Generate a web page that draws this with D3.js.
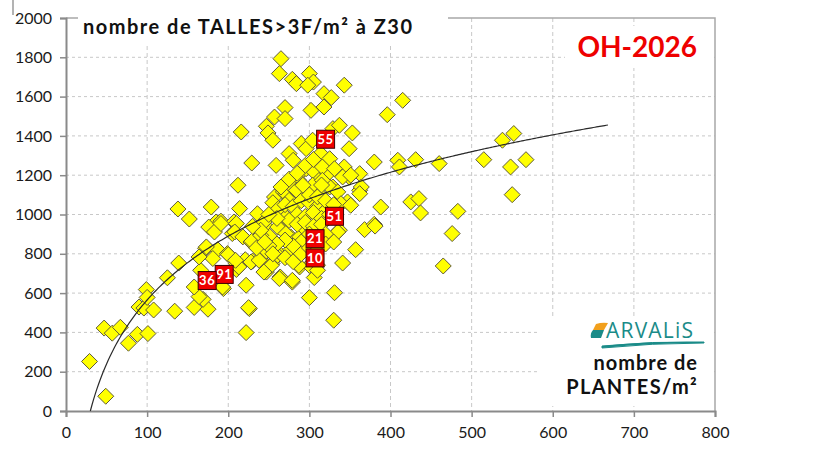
<!DOCTYPE html>
<html>
<head>
<meta charset="utf-8">
<script src="https://cdnjs.cloudflare.com/ajax/libs/d3/7.8.5/d3.min.js"></script>
<style>
  body { margin: 0; background: #fff; }
  text { font-family: Lato, "Open Sans", sans-serif; }
</style>
</head>
<body>
<script>
// plants/m² (x) vs tillers >3 leaves/m² at Z30 (y)
const plantes = [
  29, 49, 47, 57, 67, 77, 88, 101, 90, 96, 99, 100, 108, 125, 139, 134, 138, 152,
  158, 175, 169, 164, 158, 166, 172, 187, 181, 194, 164, 173,
  179, 185, 191, 176, 183, 199, 193, 207, 214, 191, 210, 205, 208, 218, 228,
  222, 226, 222, 200, 210, 210, 221, 230, 229, 240, 247, 247, 254, 263, 264, 279, 277, 288,
  263, 251, 245, 277, 288, 296, 337, 310, 236, 244, 261, 240, 271, 213, 228, 238, 261, 253,
  263, 244, 209, 225,
  300, 306, 331, 330, 341, 357, 368, 380, 335, 300, 310, 287, 279,
  265, 263, 279, 284, 300, 305, 298, 343, 318, 327, 302, 318, 396, 415, 270, 257, 270,
  247, 249, 255, 216, 329, 337, 353, 349, 290, 296, 275, 280, 259, 229, 314, 325, 380,
  409, 411, 431, 212, 257, 268, 279, 288, 296, 306, 312, 323, 329, 343, 349, 362, 362,
  347, 388, 425, 435, 437, 460, 483, 476, 465, 381, 515, 538, 552, 548, 567, 550,
  304, 316, 331, 341, 325, 335, 271, 296, 312, 287, 281, 304, 316, 351, 364, 339, 351, 362,
  267, 275, 284, 292, 255, 262, 270, 280, 290, 300, 310, 320, 285, 295, 305, 315, 325,
  275, 285, 295, 305, 315, 300, 310, 320, 290, 280, 270, 260, 250, 300, 310, 320, 330,
  265, 275, 285, 295, 305, 315, 260, 250, 240, 230, 235, 245, 255, 270, 280, 290, 300,
  310, 320, 330
];
const talles = [
  252, 75, 422, 396, 426, 345, 390, 394, 529, 524, 618, 578, 514, 678, 753, 508, 1028, 977,
  527, 518, 568, 582, 631, 716, 828, 821, 776, 623, 784, 835,
  1038, 962, 966, 936, 911, 801, 631, 962, 1030, 954, 954, 903, 911, 886, 860,
  640, 521, 399, 796, 750, 720, 770, 763, 864, 770, 707, 814, 750, 801, 682, 656, 821, 733,
  936, 889, 945, 886, 886, 920, 920, 742, 1004, 962, 936, 894, 903, 733, 758, 767, 792, 741,
  674, 707, 767, 526,
  577, 679, 602, 462, 753, 821, 923, 950, 911, 741, 716, 741, 665,
  1793, 1717, 1688, 1666, 1717, 1674, 1658, 1658, 1615, 1595, 1530, 1547, 1508, 1581, 1544, 1496, 1488,
  1449, 1415, 1378, 1420, 1437, 1454, 1415, 1335, 1361, 1335, 1310, 1276, 1250, 1262, 1310, 1284, 1267,
  1276, 1242, 1279, 1149, 1089, 1115, 1165, 1208, 1233, 1216, 1174, 1208, 1140, 1242, 1191, 1208, 1123,
  1064, 1038, 1064, 1081, 1008, 1259, 1016, 903, 738, 941, 1279, 1378, 1412, 1242, 1279, 1101,
  1378, 1242, 1233, 1191, 1140, 1115, 1106, 1106, 1106, 1174, 1132, 1149, 1174, 1200, 1140, 1055, 1047, 1106,
  1004, 1072, 1123, 1149, 1060, 1030, 1050, 1040, 1070, 1060, 1040, 1020, 1000, 990, 1010, 980, 1000,
  970, 950, 960, 940, 950, 900, 880, 900, 860, 840, 870, 850, 840, 1100, 1090, 1070, 1050,
  1140, 1180, 1210, 1250, 1280, 1150, 980, 1000, 920, 940, 830, 860, 800, 780, 760, 800, 830,
  820, 850, 860
];

// highlighted sites
const siteIds = ["55", "51", "21", "10", "91", "36"];
const sitePlantes = [320, 331, 307, 307, 195, 174];
const siteTalles = [1383, 991, 877, 779, 695, 664];

// logarithmic trend line y = a ln(x) + b
const trendA = 469, trendB = -1595;
const trendFrom = 30, trendTo = 668;

const xTicks = [0, 100, 200, 300, 400, 500, 600, 700, 800];
const yTicks = [0, 200, 400, 600, 800, 1000, 1200, 1400, 1600, 1800, 2000];

let margin = {top: 18, right: 105, bottom: 43, left: 66},
    width = 820 - margin.left - margin.right,
    height = 454 - margin.top - margin.bottom;

let svg = d3.select("body")
            .append("svg")
            .attr("width", 820)
            .attr("height", 454);

let g = svg.append("g")
           .attr("transform", `translate(${margin.left}, ${margin.top})`);

let xScale = d3.scaleLinear().domain([0, 800]).range([0, width]);
let yScale = d3.scaleLinear().domain([0, 2000]).range([height, 0]);

// grid
g.append("g")
    .selectAll("line")
    .data(xTicks.slice(1, -1))
    .enter().append("line")
        .attr("x1", d => xScale(d)).attr("x2", d => xScale(d))
        .attr("y1", 0).attr("y2", height)
        .attr("stroke", "#c8c8c8")
        .attr("stroke-dasharray", "4,3");

g.append("g")
    .selectAll("line")
    .data(yTicks.slice(1, -1))
    .enter().append("line")
        .attr("x1", 0).attr("x2", width)
        .attr("y1", d => yScale(d)).attr("y2", d => yScale(d))
        .attr("stroke", "#c8c8c8")
        .attr("stroke-dasharray", "3,3");

// frame (top / right)
g.append("path")
    .attr("d", `M0,0H${width}V${height}`)
    .attr("fill", "none")
    .attr("stroke", "#a8a8a8")
    .attr("stroke-width", 1.5);

// axes
const xAxis = d3.axisBottom(xScale).tickValues(xTicks).tickFormat(d3.format("d")).tickSize(6).tickPadding(10);
const yAxis = d3.axisLeft(yScale).tickValues(yTicks).tickFormat(d3.format("d")).tickSize(6).tickPadding(8);

let gx = g.append("g")
    .attr("transform", `translate(0, ${height})`)
    .call(xAxis);
let gy = g.append("g")
    .call(yAxis);

[gx, gy].forEach(a => {
    a.select(".domain").attr("stroke", "#8a8a8a").attr("stroke-width", 2);
    a.selectAll(".tick line").attr("stroke", "#8a8a8a").attr("stroke-width", 1.5);
    a.selectAll(".tick text")
        .attr("font-size", 16)
        .attr("fill", "#1a1a1a")
        .style("font-family", "Lato, sans-serif");
});

// small stray mark at the top-left of the picture
svg.append("line")
    .attr("x1", 13).attr("x2", 13).attr("y1", 0).attr("y2", 15)
    .attr("stroke", "#9a9a9a").attr("stroke-width", 1.5);

// points
let data = plantes.map((p, i) => ({x: p, y: talles[i]}));
const diamond = "M0,-8L8,0L0,8L-8,0Z";

g.selectAll(".pt")
    .data(data)
    .enter()
    .append("path")
        .attr("class", "pt")
        .attr("d", diamond)
        .attr("transform", d => `translate(${xScale(d.x)}, ${yScale(d.y)})`)
        .attr("fill", "#ffff00")
        .attr("stroke", "#5f5a3a")
        .attr("stroke-width", 1);

// trend
let trend = d3.range(trendFrom, trendTo + 1, 2).map(x => ({x: x, y: trendA * Math.log(x) + trendB}));
g.append("path")
    .datum(trend)
    .attr("d", d3.line().x(d => xScale(d.x)).y(d => yScale(d.y)))
    .attr("fill", "none")
    .attr("stroke", "#2a2a2a")
    .attr("stroke-width", 1.2);

// highlighted sites
let sites = siteIds.map((s, i) => ({id: s, x: sitePlantes[i], y: siteTalles[i]}));
let sg = g.selectAll(".site")
    .data(sites)
    .enter()
    .append("g")
        .attr("class", "site")
        .attr("transform", d => `translate(${xScale(d.x)}, ${yScale(d.y)})`);
sg.append("rect")
    .attr("x", -9).attr("y", -9)
    .attr("width", 18).attr("height", 18)
    .attr("fill", "#ee0000")
    .attr("stroke", "#3a0000")
    .attr("stroke-width", 1);
sg.append("text")
    .attr("text-anchor", "middle")
    .attr("dy", "0.36em")
    .attr("fill", "#fff")
    .attr("font-size", 13)
    .attr("font-weight", "bold")
    .attr("letter-spacing", 0.5)
    .text(d => d.id);

// title and annotations (white boxes hide grid)
svg.append("rect").attr("x", 78).attr("y", 4).attr("width", 370).attr("height", 41).attr("fill", "#fff");
svg.append("text")
    .attr("x", 83).attr("y", 34)
    .attr("font-size", 20)
    .attr("font-weight", "bold")
    .attr("letter-spacing", 1.5)
    .attr("fill", "#111")
    .text("nombre de TALLES>3F/m² à Z30");

svg.append("rect").attr("x", 565).attr("y", 26).attr("width", 148).attr("height", 42).attr("fill", "#fff");
svg.append("text")
    .attr("x", 697).attr("y", 57)
    .attr("text-anchor", "end")
    .attr("font-size", 28)
    .attr("font-weight", "bold")
    .attr("fill", "#ee0000")
    .text("OH-2026");

svg.append("rect").attr("x", 538).attr("y", 318).attr("width", 174).attr("height", 88).attr("fill", "#fff");
// logo
let logo = svg.append("g").attr("transform", "translate(592, 323)");
logo.append("path").attr("d", "M4,1Q10,-1 16,0L12,7H1Z").attr("fill", "#f2a01c");
logo.append("path").attr("d", "M1,7H12L9,15H-1Q-2,10 1,7Z").attr("fill", "#1a8b88");
logo.append("text")
    .attr("x", 14).attr("y", 15)
    .attr("font-size", 21)
    .attr("letter-spacing", 1.2)
    .attr("fill", "#1a8b88")
    .style("font-family", "'Open Sans', sans-serif")
    .text("ARVALiS");
logo.append("path")
    .attr("d", "M10,23Q60,18 112,19L112,20Q60,20 10,25Z")
    .attr("fill", "#1a8b88")
    .attr("stroke", "#1a8b88")
    .attr("stroke-width", 1);

svg.append("text")
    .attr("x", 698).attr("y", 370)
    .attr("text-anchor", "end")
    .attr("font-size", 20)
    .attr("font-weight", "bold")
    .attr("letter-spacing", 1)
    .attr("fill", "#111")
    .text("nombre de");
svg.append("text")
    .attr("x", 698).attr("y", 394)
    .attr("text-anchor", "end")
    .attr("font-size", 20)
    .attr("font-weight", "bold")
    .attr("letter-spacing", 1.3)
    .attr("fill", "#111")
    .text("PLANTES/m²");
</script>
</body>
</html>
